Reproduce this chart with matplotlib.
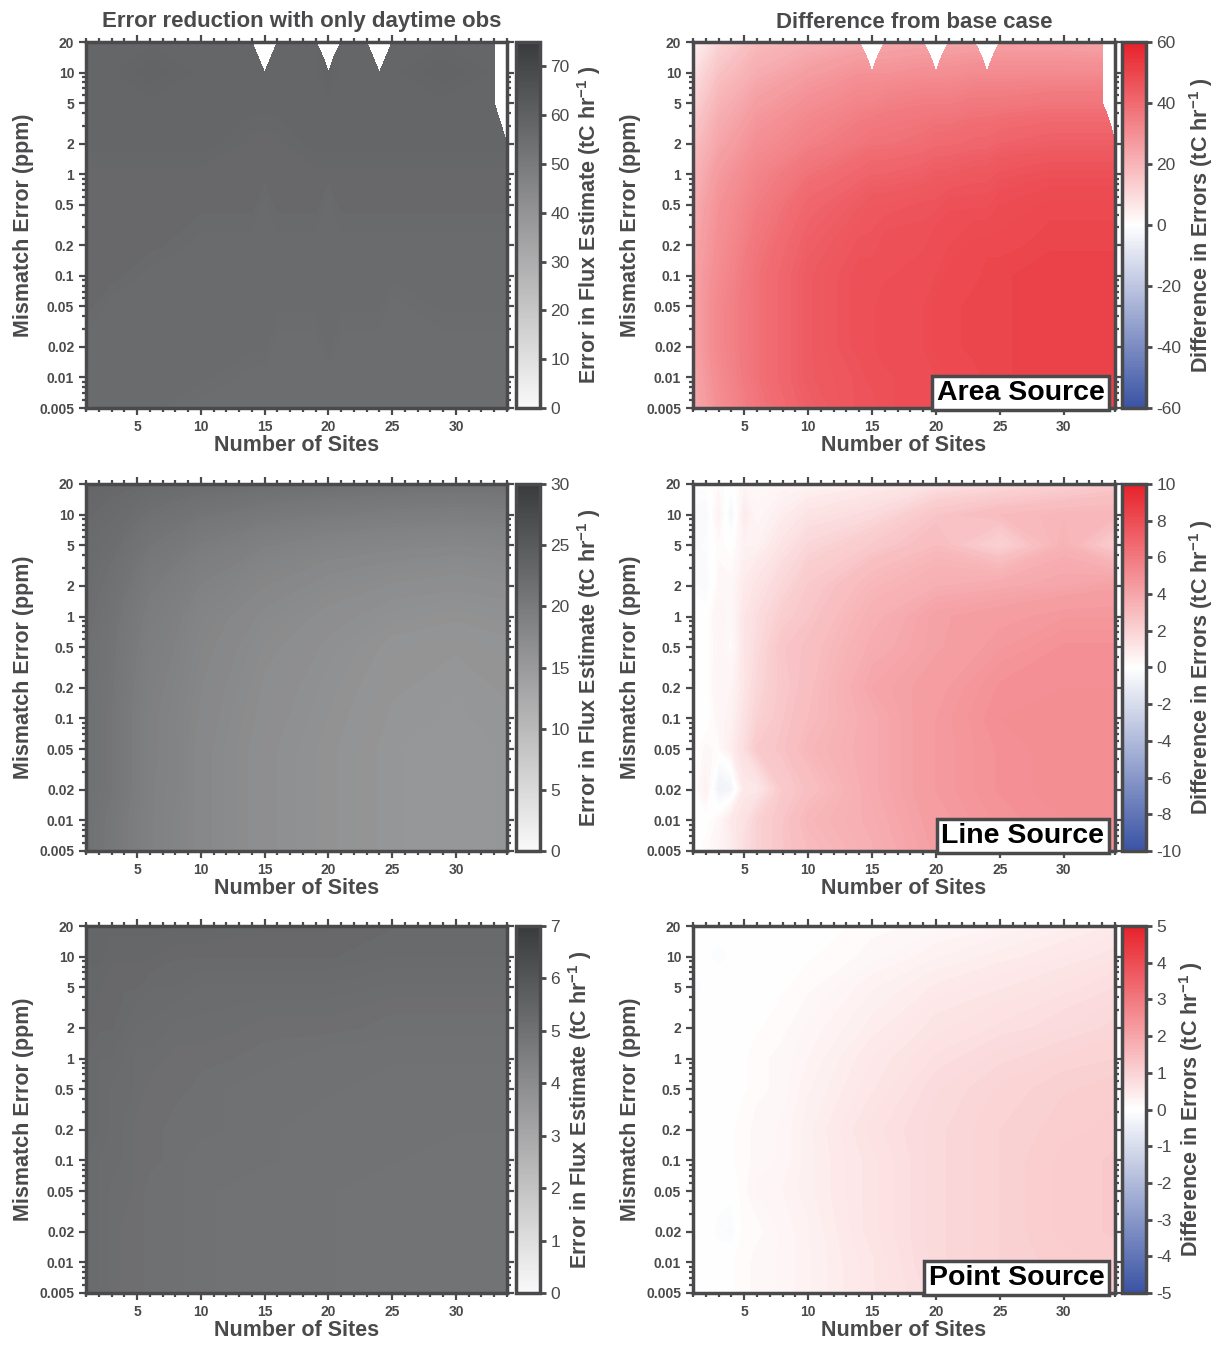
import numpy as np
import matplotlib
matplotlib.use('Agg')
import matplotlib.pyplot as plt
from matplotlib.colors import LinearSegmentedColormap, Normalize
from matplotlib.ticker import FixedLocator, MultipleLocator, LogLocator, NullFormatter
import matplotlib.cm as cm

plt.rcParams.update({
    'font.family': ['Liberation Sans', 'DejaVu Sans'],
    'mathtext.fontset': 'custom',
    'mathtext.rm': 'Liberation Sans',
    'mathtext.bf': 'Liberation Sans:bold',
    'axes.unicode_minus': False,
})

INK = '#4a4a4c'

# grid of model runs
MISMATCH = [0.005, 0.01, 0.02, 0.05, 0.1, 0.2, 0.5, 1, 2, 5, 10, 20]
SITES_AREA = [1, 3, 6, 10, 14, 15, 16, 19, 20, 21, 23, 24, 25, 29, 33, 34]
SITES = [1, 2, 3, 4, 5, 6, 8, 10, 15, 20, 25, 30, 34]
nan = np.nan

# rows follow MISMATCH (0.005 -> 20), columns follow the site list
area_day = [
    [56, 56, 56, 55, 55, 55, 55, 55, 55, 55, 55, 55, 55, 55, 55, 55],
    [56, 56, 56, 56, 55, 55, 55, 55, 55, 55, 55, 55, 55, 55, 55, 55],
    [56, 56, 56, 56, 56, 56, 55, 55, 56, 55, 55, 55, 55, 55, 55, 55],
    [57, 56, 56, 56, 56, 56, 56, 56, 56, 56, 56, 56, 55, 56, 56, 56],
    [57, 57, 56, 56, 56, 56, 56, 56, 56, 56, 56, 56, 56, 56, 56, 56],
    [57, 57, 57, 56, 56, 56, 56, 56, 56, 56, 56, 56, 56, 56, 56, 56],
    [57, 57, 57, 57, 57, 56, 57, 57, 56, 57, 57, 57, 57, 57, 57, 57],
    [57, 57, 57, 57, 57, 57, 57, 57, 57, 57, 57, 57, 57, 57, 57, 57],
    [58, 58, 58, 58, 57, 57, 57, 58, 58, 58, 58, 58, 58, 58, 58, 58],
    [58, 58, 58, 58, 58, 58, 58, 58, 58, 58, 58, 58, 58, 58, 58, nan],
    [58, 58, 59, 58, 58, 58, 58, 58, 59, 58, 58, 58, 58, 59, 58, nan],
    [58, 58, 58, 58, 58, nan, 58, 58, nan, 58, 58, nan, 58, 58, 58, nan],
]
area_diff = [
    [23, 30, 37, 43, 46, 46, 47, 48, 48, 48, 49, 49, 50, 50, 51, 51],
    [24, 31, 38, 44, 46, 47, 47, 48, 48, 49, 49, 50, 50, 51, 51, 51],
    [25, 32, 38, 44, 47, 47, 48, 48, 49, 49, 50, 50, 50, 51, 51, 51],
    [25, 32, 38, 44, 47, 47, 48, 48, 49, 49, 50, 50, 50, 51, 51, 51],
    [25, 31, 38, 44, 47, 47, 47, 48, 48, 49, 49, 50, 50, 51, 51, 51],
    [24, 30, 37, 43, 46, 46, 47, 47, 48, 48, 49, 49, 49, 50, 50, 50],
    [22, 29, 35, 41, 44, 45, 45, 46, 46, 47, 47, 47, 48, 49, 49, 49],
    [20, 27, 33, 38, 41, 42, 42, 43, 44, 44, 45, 45, 46, 47, 47, 47],
    [17, 24, 30, 34, 37, 38, 38, 39, 40, 40, 41, 41, 42, 43, 43, 43],
    [12, 20, 26, 30, 33, 33, 34, 35, 35, 35, 36, 36, 36, 37, 37, nan],
    [8, 16, 22, 26, 29, 29, 29, 30, 30, 30, 31, 31, 31, 31, 31, nan],
    [3, 11, 18, 21, 23, nan, 23, 24, nan, 24, 24, nan, 25, 25, 24, nan],
]
line_day = [
    [21.5, 21.0, 20.5, 20.0, 19.5, 19.0, 18.5, 17.8, 16.8, 16.2, 15.6, 15.4, 15.6],
    [21.5, 21.0, 20.6, 20.0, 19.5, 19.0, 18.5, 17.8, 16.8, 16.2, 15.6, 15.4, 15.6],
    [21.6, 21.2, 20.8, 20.2, 19.6, 19.0, 18.6, 17.8, 16.8, 16.2, 15.6, 15.4, 15.6],
    [21.6, 21.2, 20.8, 20.2, 19.6, 19.1, 18.6, 17.8, 16.8, 16.2, 15.6, 15.4, 15.6],
    [21.6, 21.2, 20.8, 20.2, 19.6, 19.1, 18.6, 17.9, 16.9, 16.3, 15.7, 15.5, 15.7],
    [21.7, 21.3, 20.9, 20.3, 19.7, 19.2, 18.7, 18.0, 17.0, 16.4, 15.8, 15.6, 15.8],
    [21.8, 21.4, 21.0, 20.4, 19.9, 19.4, 18.9, 18.2, 17.2, 16.6, 16.0, 15.8, 16.0],
    [22.0, 21.6, 21.2, 20.6, 20.1, 19.6, 19.1, 18.4, 17.5, 16.9, 16.4, 16.2, 16.4],
    [22.2, 21.8, 21.5, 21.0, 20.5, 20.0, 19.5, 18.9, 18.0, 17.4, 17.0, 16.8, 17.0],
    [22.5, 22.2, 22.0, 21.6, 21.2, 20.8, 20.4, 19.8, 19.0, 18.5, 18.2, 18.0, 18.2],
    [22.8, 22.6, 22.4, 22.2, 21.9, 21.6, 21.3, 20.9, 20.3, 19.9, 19.6, 19.5, 19.6],
    [23.2, 23.1, 23.0, 22.9, 22.8, 22.6, 22.5, 22.3, 22.0, 21.8, 21.5, 21.4, 21.5],
]
line_diff = [
    [0.0, 0.2, 0.5, 0.8, 1.5, 2.0, 2.6, 3.0, 3.6, 4.3, 4.8, 5.0, 5.0],
    [-0.2, 0.0, 0.3, 1.0, 1.3, 2.0, 2.6, 3.2, 3.7, 4.4, 4.8, 5.0, 5.0],
    [0.0, 0.6, -0.8, -0.6, 1.0, 1.0, 2.4, 2.8, 3.8, 4.5, 4.9, 5.1, 5.1],
    [0.0, 0.3, 0.2, 0.8, 1.5, 2.4, 2.7, 3.2, 3.8, 4.5, 4.9, 5.1, 5.1],
    [0.0, -0.1, 0.4, 0.6, 1.3, 2.0, 2.6, 3.0, 3.8, 4.5, 5.0, 5.1, 5.1],
    [0.0, 0.0, 0.5, 0.5, 1.1, 1.8, 2.5, 2.9, 4.0, 4.4, 4.9, 5.0, 5.0],
    [0.0, 0.0, 0.4, 0.2, 1.1, 1.6, 2.6, 2.8, 3.7, 4.2, 4.6, 4.9, 4.9],
    [0.0, 0.0, 0.5, 0.3, 1.1, 1.5, 2.2, 2.6, 3.5, 4.2, 4.4, 4.6, 4.6],
    [-0.2, -0.4, 0.3, 0.3, 0.9, 1.2, 1.8, 2.4, 3.2, 3.6, 3.8, 4.0, 4.2],
    [-0.4, -0.2, 0.2, 0.0, 0.6, 0.6, 1.2, 1.8, 2.4, 3.0, 2.0, 3.4, 2.2],
    [-0.3, -0.4, 0.6, -0.6, 0.9, 0.4, 0.8, 1.2, 1.6, 2.6, 3.0, 3.2, 3.2],
    [-0.1, 0.0, 0.2, 0.0, 0.4, 0.3, 0.4, 0.5, 0.8, 1.2, 1.6, 2.0, 2.4],
]
point_day = [
    [5.25, 5.2, 5.15, 5.1, 5.1, 5.05, 5.05, 5.0, 4.95, 4.95, 4.9, 4.9, 4.9],
    [5.25, 5.2, 5.15, 5.1, 5.1, 5.05, 5.05, 5.0, 4.95, 4.95, 4.9, 4.9, 4.9],
    [5.25, 5.2, 5.15, 5.1, 5.1, 5.05, 5.05, 5.0, 4.95, 4.95, 4.9, 4.9, 4.9],
    [5.25, 5.2, 5.15, 5.15, 5.1, 5.05, 5.05, 5.0, 4.95, 4.95, 4.9, 4.9, 4.9],
    [5.25, 5.2, 5.2, 5.15, 5.1, 5.1, 5.05, 5.0, 5.0, 4.95, 4.95, 4.9, 4.9],
    [5.3, 5.25, 5.2, 5.15, 5.1, 5.1, 5.05, 5.05, 5.0, 4.95, 4.95, 4.95, 4.95],
    [5.3, 5.25, 5.2, 5.2, 5.15, 5.1, 5.1, 5.05, 5.0, 5.0, 4.95, 4.95, 4.95],
    [5.3, 5.25, 5.25, 5.2, 5.15, 5.15, 5.1, 5.1, 5.05, 5.0, 5.0, 5.0, 5.0],
    [5.35, 5.3, 5.3, 5.25, 5.2, 5.2, 5.15, 5.15, 5.1, 5.1, 5.05, 5.05, 5.05],
    [5.35, 5.35, 5.3, 5.3, 5.3, 5.25, 5.25, 5.2, 5.2, 5.2, 5.15, 5.15, 5.15],
    [5.4, 5.4, 5.35, 5.35, 5.35, 5.35, 5.3, 5.3, 5.3, 5.3, 5.25, 5.25, 5.25],
    [5.4, 5.4, 5.4, 5.4, 5.4, 5.4, 5.4, 5.4, 5.35, 5.35, 5.3, 5.3, 5.3],
]
point_diff = [
    [0.0, -0.05, 0.0, 0.05, 0.1, 0.15, 0.2, 0.3, 0.55, 0.8, 1.0, 1.1, 1.15],
    [0.0, 0.0, 0.0, 0.05, 0.1, 0.15, 0.2, 0.3, 0.55, 0.85, 1.0, 1.1, 1.15],
    [0.0, 0.0, -0.1, -0.15, 0.1, 0.1, 0.2, 0.3, 0.6, 0.85, 1.0, 1.15, 1.2],
    [-0.05, 0.0, 0.0, 0.0, 0.1, 0.2, 0.25, 0.35, 0.6, 0.85, 1.0, 1.15, 1.2],
    [0.0, 0.0, 0.0, 0.05, 0.1, 0.15, 0.2, 0.35, 0.6, 0.85, 1.0, 1.15, 1.2],
    [0.0, 0.0, 0.0, 0.05, 0.1, 0.15, 0.2, 0.35, 0.65, 0.85, 1.0, 1.1, 1.15],
    [0.0, 0.0, 0.0, 0.0, 0.05, 0.1, 0.15, 0.3, 0.55, 0.8, 0.95, 1.05, 1.1],
    [0.0, -0.05, 0.0, 0.0, 0.05, 0.1, 0.15, 0.25, 0.5, 0.7, 0.85, 0.95, 1.0],
    [-0.05, -0.05, 0.0, 0.0, 0.05, 0.05, 0.1, 0.2, 0.4, 0.6, 0.7, 0.8, 0.9],
    [-0.1, -0.05, 0.0, 0.0, 0.0, 0.05, 0.05, 0.1, 0.3, 0.45, 0.55, 0.65, 0.75],
    [0.0, -0.05, -0.1, -0.05, 0.0, 0.0, 0.0, 0.05, 0.15, 0.3, 0.4, 0.5, 0.6],
    [0.0, 0.0, 0.0, 0.0, 0.0, 0.0, -0.05, 0.0, 0.1, 0.15, 0.25, 0.35, 0.45],
]

GRAY = LinearSegmentedColormap.from_list('grays', ['#f9f9f9', '#3a3b3d'])
DIVERGE = LinearSegmentedColormap.from_list('bwr2', ['#3a53a4', '#ffffff', '#e8212a'])

YLABELS = ['0.005', '0.01', '0.02', '0.05', '0.1', '0.2', '0.5', '1', '2', '5', '10', '20']

# axes boxes in pixels: (left, right, cbar left, cbar right) per column, (top, bottom) per row
COLS = [(86, 507, 516, 540), (693, 1115, 1122, 1146)]
ROWS = [(42, 408), (484, 851), (926, 1293)]
W, H = 1219, 1345


def style_axes(ax):
    ax.set_yscale('log')
    ax.set_xlim(1, 34)
    ax.set_ylim(0.005, 20)
    ax.xaxis.set_major_locator(FixedLocator([5, 10, 15, 20, 25, 30]))
    ax.xaxis.set_minor_locator(MultipleLocator(1))
    ax.yaxis.set_major_locator(FixedLocator(MISMATCH))
    ax.set_yticklabels(YLABELS)
    ax.yaxis.set_minor_locator(LogLocator(subs=np.arange(2, 10)))
    ax.yaxis.set_minor_formatter(NullFormatter())
    ax.tick_params(which='both', direction='out', top=True, right=True,
                   color=INK, width=1.6, labelcolor=INK)
    ax.tick_params(which='major', length=5, labelsize=10)
    ax.tick_params(which='minor', length=3)
    for lab in ax.get_xticklabels() + ax.get_yticklabels():
        lab.set_fontweight('bold')
    for sp in ax.spines.values():
        sp.set_color(INK)
        sp.set_linewidth(2.5)
    ax.set_xlabel('Number of Sites', fontsize=15.5, fontweight='bold', color=INK, labelpad=1)
    ax.set_ylabel('Mismatch Error (ppm)', fontsize=15.5, fontweight='bold', color=INK, labelpad=4)


def panel(fig, col, row, sites, values, cmap, vmin, vmax, cticks, clabel, tag=None):
    left, right, cl, cr = COLS[col]
    top, bottom = ROWS[row]
    ax = fig.add_axes([left / W, 1 - bottom / H, (right - left) / W, (bottom - top) / H])
    cax = fig.add_axes([cl / W, 1 - bottom / H, (cr - cl) / W, (bottom - top) / H])

    X, Y = np.meshgrid(sites, MISMATCH)
    Z = np.ma.masked_invalid(np.array(values, dtype=float))
    levels = np.linspace(vmin, vmax, 161)
    ax.contourf(X, Y, Z, levels=levels, cmap=cmap, vmin=vmin, vmax=vmax)
    style_axes(ax)

    sm = cm.ScalarMappable(norm=Normalize(vmin, vmax), cmap=cmap)
    cb = fig.colorbar(sm, cax=cax, ticks=cticks)
    cb.outline.set_edgecolor(INK)
    cb.outline.set_linewidth(2.5)
    cax.tick_params(direction='out', length=4, width=2, color=INK,
                    labelcolor=INK, labelsize=12.5)
    cb.set_label(clabel, fontsize=15.5, fontweight='bold', color=INK, labelpad=4)

    if tag:
        ax.text(0.975, 0.006, tag, transform=ax.transAxes, ha='right', va='bottom',
                fontsize=20.5, fontweight='bold', color='black',
                bbox=dict(boxstyle='square,pad=0.15', fc='white', ec=INK, lw=2.5))
    return ax


fig = plt.figure(figsize=(W / 100, H / 100), dpi=100)

flux_label = r'Error in Flux Estimate (tC hr$^{\mathbf{-1}}$ )'
diff_label = r'Difference in Errors (tC hr$^{\mathbf{-1}}$ )'

panel(fig, 0, 0, SITES_AREA, area_day, GRAY, 0, 75, range(0, 71, 10), flux_label)
panel(fig, 1, 0, SITES_AREA, area_diff, DIVERGE, -60, 60, range(-60, 61, 20), diff_label, 'Area Source')
panel(fig, 0, 1, SITES, line_day, GRAY, 0, 30, range(0, 31, 5), flux_label)
panel(fig, 1, 1, SITES, line_diff, DIVERGE, -10, 10, range(-10, 11, 2), diff_label, 'Line Source')
panel(fig, 0, 2, SITES, point_day, GRAY, 0, 7, range(0, 8), flux_label)
panel(fig, 1, 2, SITES, point_diff, DIVERGE, -5, 5, range(-5, 6), diff_label, 'Point Source')

fig.text(302 / W, 1 - 22 / H, 'Error reduction with only daytime obs', ha='center', va='center',
         fontsize=16, fontweight='bold', color=INK)
fig.text(914 / W, 1 - 22 / H, 'Difference from base case', ha='center', va='center',
         fontsize=16, fontweight='bold', color=INK)

fig.savefig('out.png', dpi=100)
